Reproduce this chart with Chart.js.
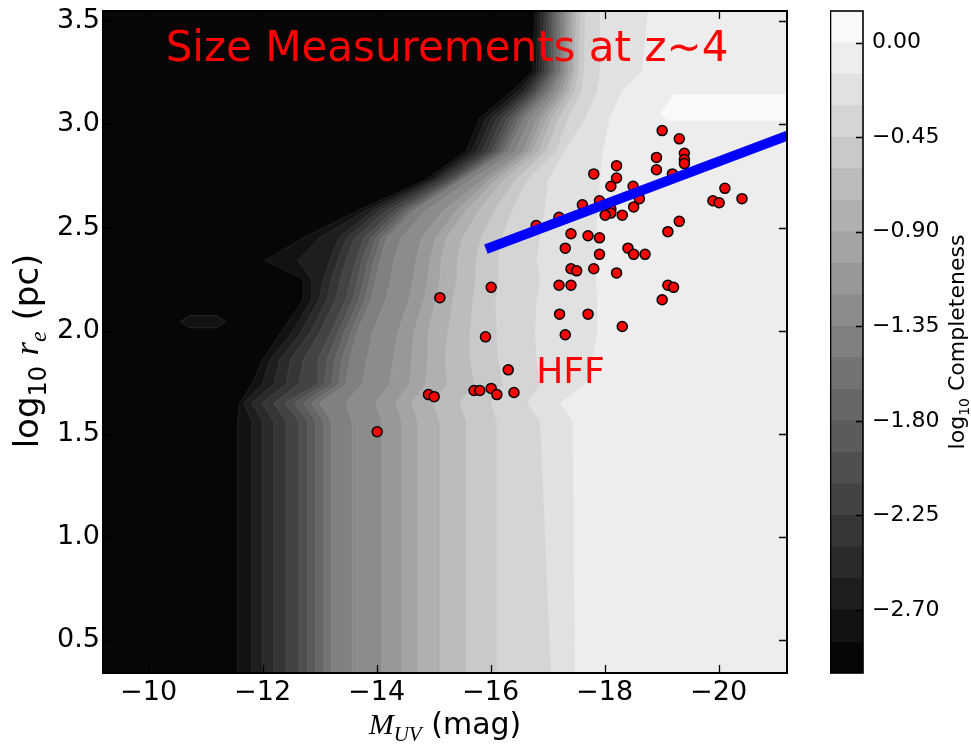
<!DOCTYPE html>
<html>
<head>
<meta charset="utf-8">
<title>Size Measurements at z~4</title>
<script src="https://cdn.jsdelivr.net/npm/chart.js@4.4.1/dist/chart.umd.min.js"></script>
<style>
  html, body { margin: 0; padding: 0; background: #fff; }
  #wrap { position: relative; width: 971px; height: 749px; }
  #main { position: absolute; left: 0; top: 0; }
  #cbar { position: absolute; left: 830px; top: 0; }
</style>
</head>
<body>
<div id="wrap">
  <canvas id="main" width="800" height="749"></canvas>
  <canvas id="cbar" width="141" height="749"></canvas>
</div>
<script>
// ---- axis ranges and ticks ----
const xLimits = [-21.2, -9.2];
const yLimits = [0.34, 3.55];
const xTicks = [-20, -18, -16, -14, -12, -10];
const yTicks = [0.5, 1.0, 1.5, 2.0, 2.5, 3.0, 3.5];

// ---- completeness contours (log10 completeness levels, colorbar) ----
const cbarLevels = [-3.0, -2.85, -2.7, -2.55, -2.4, -2.25, -2.1, -1.95, -1.8, -1.65, -1.5,
                    -1.35, -1.2, -1.05, -0.9, -0.75, -0.6, -0.45, -0.3, -0.15, 0.0, 0.15];
const cbarTicks = [-2.70, -2.25, -1.80, -1.35, -0.90, -0.45, 0.00];

const contourRows = [0.34, 1.56, 1.65, 1.74, 1.86, 1.99, 2.15, 2.25, 2.34, 2.45, 2.58, 2.73, 2.87, 3.03, 3.16, 3.26, 3.55];
// M_UV of the edge between band k-1 and band k, one value per row
const edge01 = [-11.56, -11.56, -11.60, -11.81, -12.00, -12.32, -12.71, -12.71, -12.04, -12.71, -13.65, -14.85, -15.57, -15.81, -16.37, -16.74, -16.78];
const edge02 = [-11.81, -11.81, -11.67, -11.99, -12.13, -12.51, -12.86, -12.86, -12.62, -13.00, -13.79, -14.95, -15.67, -15.92, -16.48, -16.80, -16.83];
const edge03 = [-12.00, -12.00, -11.81, -12.20, -12.30, -12.67, -12.99, -13.07, -13.18, -13.34, -13.92, -15.02, -15.76, -16.02, -16.57, -16.85, -16.88];
const edge04 = [-12.20, -12.20, -11.99, -12.41, -12.49, -12.83, -13.13, -13.21, -13.32, -13.48, -14.04, -15.09, -15.85, -16.11, -16.64, -16.90, -16.94];
const edge05 = [-12.41, -12.41, -12.20, -12.64, -12.72, -13.00, -13.28, -13.37, -13.46, -13.62, -14.16, -15.18, -15.94, -16.20, -16.71, -16.95, -16.99];
const edge06 = [-12.64, -12.64, -12.39, -12.97, -12.97, -13.20, -13.46, -13.55, -13.64, -13.78, -14.30, -15.27, -16.02, -16.30, -16.78, -17.01, -17.04];
const edge07 = [-12.79, -12.79, -12.56, -13.09, -13.13, -13.32, -13.58, -13.67, -13.74, -13.90, -14.39, -15.34, -16.09, -16.37, -16.83, -17.06, -17.08];
const edge08 = [-12.93, -12.93, -12.72, -13.21, -13.27, -13.43, -13.69, -13.78, -13.85, -13.99, -14.48, -15.39, -16.16, -16.44, -16.88, -17.11, -17.13];
const edge09 = [-13.07, -13.07, -12.86, -13.34, -13.39, -13.55, -13.79, -13.88, -13.95, -14.09, -14.57, -15.44, -16.23, -16.51, -16.95, -17.16, -17.18];
const edge10 = [-13.21, -13.21, -13.00, -13.46, -13.53, -13.65, -13.90, -13.99, -14.06, -14.18, -14.64, -15.50, -16.30, -16.58, -17.02, -17.22, -17.23];
const edge11 = [-13.57, -13.57, -13.46, -13.74, -13.83, -13.93, -14.16, -14.25, -14.30, -14.43, -14.85, -15.64, -16.43, -16.69, -17.09, -17.27, -17.29];
const edge12 = [-14.09, -14.09, -13.99, -14.23, -14.29, -14.37, -14.57, -14.64, -14.69, -14.79, -15.16, -15.85, -16.57, -16.81, -17.18, -17.32, -17.34];
const edge13 = [-14.44, -14.44, -14.34, -14.58, -14.62, -14.65, -14.83, -14.90, -14.93, -15.04, -15.39, -15.97, -16.65, -16.90, -17.25, -17.37, -17.39];
const edge14 = [-14.72, -14.72, -14.62, -14.86, -14.90, -14.90, -15.04, -15.11, -15.13, -15.23, -15.55, -16.09, -16.74, -16.99, -17.32, -17.43, -17.44];
const edge15 = [-15.11, -15.11, -15.00, -15.25, -15.20, -15.25, -15.34, -15.41, -15.41, -15.51, -15.78, -16.23, -16.85, -17.08, -17.39, -17.48, -17.50];
const edge16 = [-15.57, -15.57, -15.46, -15.71, -15.64, -15.64, -15.69, -15.74, -15.74, -15.83, -16.06, -16.43, -16.97, -17.20, -17.48, -17.55, -17.57];
const edge17 = [-16.11, -16.11, -16.01, -16.22, -16.13, -16.11, -16.09, -16.15, -16.13, -16.20, -16.37, -16.64, -17.15, -17.36, -17.60, -17.64, -17.66];
const edge18 = [-17.06, -16.87, -16.64, -16.87, -16.81, -16.78, -16.81, -16.87, -16.81, -16.87, -16.95, -17.01, -17.30, -17.66, -17.87, -17.92, -17.92];
const edge19 = [-17.48, -17.44, -17.22, -17.66, -17.78, -17.87, -17.87, -17.85, -17.85, -17.85, -17.88, -17.92, -17.97, -18.09, -18.30, -18.66, -18.76];

// small island of band 1 inside the black area, and the band 20 patch at the top right
const islandX = [-10.56, -10.72, -11.19, -11.35, -11.19, -10.72, -10.56];
const islandY = [2.044, 2.073, 2.073, 2.044, 2.014, 2.014, 2.044];
const patchX = [-19.21, -21.2, -21.2, -19.11, -18.97, -19.21];
const patchY = [3.147, 3.147, 3.018, 3.018, 3.050, 3.147];

// ---- HFF galaxies ----
const muv = [-19.01, -19.31, -19.40, -19.40, -19.40, -18.91, -18.91, -19.19, -18.21, -18.21,
             -17.81, -18.11, -18.50, -17.61, -17.91, -18.61, -18.51, -18.11, -18.11, -18.01,
             -18.31, -17.20, -16.80, -17.41, -17.71, -17.91, -17.31, -17.91, -18.41, -18.51,
             -18.71, -17.41, -17.51, -17.81, -18.21, -17.20, -17.41, -17.21, -17.71, -17.31,
             -18.31, -19.90, -20.01, -20.11, -20.41, -19.31, -19.11, -19.11, -19.21, -19.01,
             -15.11, -16.01, -15.91, -16.31, -14.91, -15.01, -15.71, -15.81, -16.01, -16.11,
             -16.41, -14.01];
const logRe = [2.97, 2.93, 2.86, 2.83, 2.81, 2.84, 2.78, 2.76, 2.80, 2.74,
               2.76, 2.70, 2.70, 2.61, 2.63, 2.64, 2.60, 2.59, 2.57, 2.56,
               2.56, 2.55, 2.51, 2.47, 2.46, 2.45, 2.40, 2.37, 2.40, 2.37,
               2.37, 2.30, 2.29, 2.30, 2.28, 2.22, 2.22, 2.08, 2.08, 1.98,
               2.02, 2.63, 2.62, 2.69, 2.64, 2.53, 2.48, 2.22, 2.21, 2.15,
               2.16, 2.21, 1.97, 1.81, 1.69, 1.68, 1.71, 1.71, 1.72, 1.69,
               1.70, 1.51];

// size-luminosity relation
const fitX = [-16.0, -21.2];
const fitY = [2.404, 2.945];

// ---- helpers ----
Chart.defaults.font.family = '"DejaVu Sans", sans-serif';
Chart.defaults.color = '#000';

const nBands = cbarLevels.length - 1;
function grayLevel(k) {
  const v = Math.min(255, Math.floor((k + 0.5) / nBands * 256));
  return 'rgb(' + v + ',' + v + ',' + v + ')';
}
const fmt = (v, d) => (v < 0 ? '\u2212' : '') + Math.abs(v).toFixed(d);

function drawRuns(ctx, runs, x, y) {
  // runs: [text, font, baseline shift]; centred on x
  let total = 0;
  runs.forEach(r => { ctx.font = r[1]; total += ctx.measureText(r[0]).width; });
  let cx = x - total / 2;
  ctx.textAlign = 'left';
  ctx.textBaseline = 'alphabetic';
  runs.forEach(r => {
    ctx.font = r[1];
    ctx.fillText(r[0], cx, y + (r[2] || 0));
    cx += ctx.measureText(r[0]).width;
  });
}

// ---- datasets ----
const edges = [edge01, edge02, edge03, edge04, edge05, edge06, edge07, edge08, edge09, edge10,
               edge11, edge12, edge13, edge14, edge15, edge16, edge17, edge18, edge19];

const bandSets = edges.map((xs, i) => {
  const band = i + 1;
  const pts = xs.map((x, j) => ({ x: x, y: contourRows[j] }));
  pts.push({ x: xLimits[0], y: yLimits[1] }, { x: xLimits[0], y: yLimits[0] });
  return {
    data: pts, showLine: true, fill: 'shape', tension: 0,
    backgroundColor: grayLevel(band),
    borderColor: 'rgba(255,255,255,0.10)', borderWidth: 0.8,
    pointRadius: 0, order: 100 - band
  };
});

const islandSet = {
  data: islandX.map((x, i) => ({ x: x, y: islandY[i] })),
  showLine: true, fill: 'shape', backgroundColor: grayLevel(1),
  borderColor: 'rgba(255,255,255,0.15)', borderWidth: 0.8, pointRadius: 0, order: 60
};
const patchSet = {
  data: patchX.map((x, i) => ({ x: x, y: patchY[i] })),
  showLine: true, fill: 'shape', backgroundColor: grayLevel(20),
  borderWidth: 0, pointRadius: 0, order: 50
};
const galaxySet = {
  data: muv.map((x, i) => ({ x: x, y: logRe[i] })),
  pointRadius: 5, pointBackgroundColor: '#ff0000', pointBorderColor: '#000',
  pointBorderWidth: 1.5, showLine: false, order: 1, clip: false
};
const fitSet = {
  data: fitX.map((x, i) => ({ x: x, y: fitY[i] })),
  showLine: true, borderColor: '#0000ff', borderWidth: 10, borderCapStyle: 'square',
  pointRadius: 0, order: 0, clip: 0
};

const decor = {
  id: 'decor',
  beforeDatasetsDraw(chart) {
    const { ctx, chartArea: a } = chart;
    ctx.save();
    ctx.fillStyle = grayLevel(0);
    ctx.fillRect(a.left, a.top, a.width, a.height);
    ctx.restore();
  },
  afterDatasetsDraw(chart) {
    const { ctx, scales: { x, y } } = chart;
    ctx.save();
    ctx.fillStyle = '#ff0000';
    ctx.textAlign = 'left';
    ctx.textBaseline = 'alphabetic';
    ctx.font = '42px "DejaVu Sans"';
    ctx.fillText('Size Measurements at z~4', x.getPixelForValue(-10.3), y.getPixelForValue(3.309));
    ctx.font = '36px "DejaVu Sans"';
    ctx.fillText('HFF', x.getPixelForValue(-16.8), y.getPixelForValue(1.744));
    ctx.restore();
  },
  afterDraw(chart) {
    const { ctx, chartArea: a, scales: { x, y } } = chart;
    ctx.save();
    ctx.strokeStyle = '#000';
    ctx.lineWidth = 1.3;
    ctx.beginPath();
    x.ticks.forEach(t => {
      const px = Math.round(x.getPixelForValue(t.value)) + 0.5;
      ctx.moveTo(px, a.bottom); ctx.lineTo(px, a.bottom - 8);
      ctx.moveTo(px, a.top); ctx.lineTo(px, a.top + 8);
    });
    y.ticks.forEach(t => {
      const py = Math.round(y.getPixelForValue(t.value)) + 0.5;
      ctx.moveTo(a.left, py); ctx.lineTo(a.left + 8, py);
      ctx.moveTo(a.right, py); ctx.lineTo(a.right - 8, py);
    });
    ctx.stroke();
    ctx.lineWidth = 2;
    ctx.strokeRect(a.left, a.top, a.width, a.height);

    ctx.fillStyle = '#000';
    drawRuns(ctx, [
      ['M', 'italic 30px "Liberation Serif"'],
      ['UV', 'italic 21px "Liberation Serif"', 7],
      [' (mag)', '30px "DejaVu Sans"']
    ], (a.left + a.right) / 2, 734);

    ctx.translate(38, 351);
    ctx.rotate(-Math.PI / 2);
    drawRuns(ctx, [
      ['log', '34px "DejaVu Sans"'],
      ['10', '24px "DejaVu Sans"', 8],
      [' ', '34px "DejaVu Sans"'],
      ['r', 'italic 34px "Liberation Serif"'],
      ['e', 'italic 24px "Liberation Serif"', 8],
      [' (pc)', '34px "DejaVu Sans"']
    ], 0, 0);
    ctx.restore();
  }
};

new Chart(document.getElementById('main'), {
  type: 'scatter',
  data: { datasets: [galaxySet, fitSet, patchSet, islandSet].concat(bandSets) },
  options: {
    responsive: false,
    animation: false,
    events: [],
    layout: { padding: { left: 0, right: 13, top: 11, bottom: 0 } },
    plugins: { legend: { display: false }, tooltip: { enabled: false } },
    scales: {
      x: {
        type: 'linear', reverse: true, min: xLimits[0], max: xLimits[1],
        grid: { display: false, drawTicks: false }, border: { display: false },
        ticks: { font: { size: 27 }, padding: 4, maxRotation: 0, autoSkip: false,
                 callback: v => fmt(v, 0) },
        afterBuildTicks: s => { s.ticks = xTicks.map(v => ({ value: v })); },
        afterFit: s => { s.height = 76; s.paddingLeft = 0; s.paddingRight = 0; }
      },
      y: {
        type: 'linear', min: yLimits[0], max: yLimits[1],
        grid: { display: false, drawTicks: false }, border: { display: false },
        ticks: { font: { size: 27 }, padding: 3, callback: v => v.toFixed(1) },
        afterBuildTicks: s => { s.ticks = yTicks.map(v => ({ value: v })); },
        afterFit: s => { s.width = 103; s.paddingTop = 0; s.paddingBottom = 0; }
      }
    }
  },
  plugins: [decor]
});

// ---- colorbar ----
const cbarDecor = {
  id: 'cbarDecor',
  afterDraw(chart) {
    const { ctx, chartArea: a, scales: { y } } = chart;
    ctx.save();
    ctx.strokeStyle = '#000';
    ctx.lineWidth = 1.3;
    ctx.beginPath();
    y.ticks.forEach(t => {
      const py = Math.round(y.getPixelForValue(t.value)) + 0.5;
      ctx.moveTo(a.right, py); ctx.lineTo(a.right - 7, py);
    });
    ctx.stroke();
    ctx.lineWidth = 1.6;
    ctx.strokeRect(a.left + 0.5, a.top, a.width - 0.5, a.height);
    ctx.fillStyle = '#000';
    ctx.translate(134, (a.top + a.bottom) / 2);
    ctx.rotate(-Math.PI / 2);
    drawRuns(ctx, [
      ['log', '22px "DejaVu Sans"'],
      ['10', '14px "DejaVu Sans"', 5],
      [' Completeness', '22px "DejaVu Sans"']
    ], 0, 0);
    ctx.restore();
  }
};

new Chart(document.getElementById('cbar'), {
  type: 'bar',
  data: {
    labels: [''],
    datasets: cbarLevels.slice(0, -1).map((lo, k) => ({
      data: [[lo, cbarLevels[k + 1]]],
      backgroundColor: grayLevel(k),
      borderWidth: 0, grouped: false, barPercentage: 1, categoryPercentage: 1
    }))
  },
  options: {
    responsive: false,
    animation: false,
    events: [],
    layout: { padding: { left: 0, right: 0, top: 11, bottom: 76 } },
    plugins: { legend: { display: false }, tooltip: { enabled: false } },
    scales: {
      x: { display: false },
      y: {
        position: 'right', min: cbarLevels[0], max: cbarLevels[cbarLevels.length - 1],
        grid: { display: false, drawTicks: false }, border: { display: false },
        ticks: { font: { size: 22 }, padding: 9, callback: v => fmt(v, 2) },
        afterBuildTicks: s => { s.ticks = cbarTicks.map(v => ({ value: v })); },
        afterFit: s => { s.width = 108; s.paddingTop = 0; s.paddingBottom = 0; }
      }
    }
  },
  plugins: [cbarDecor]
});
</script>
</body>
</html>
